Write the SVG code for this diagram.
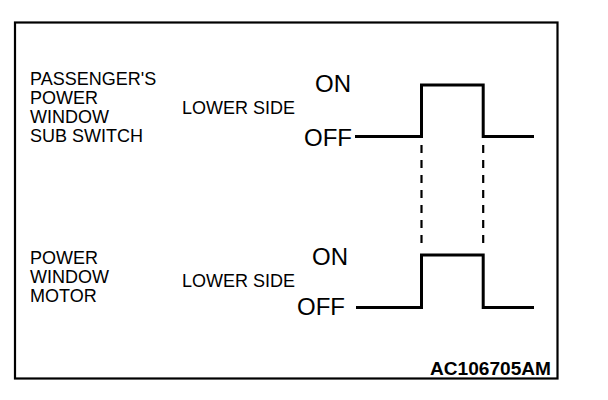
<svg xmlns="http://www.w3.org/2000/svg" width="608" height="400" viewBox="0 0 608 400">
<style>
text{font-family:"Liberation Sans",Arial,Helvetica,sans-serif;fill:#000}
.lbl{font-size:18px}
.st{font-size:24px}
.code{font-size:18px;font-weight:bold}
.wave{fill:none;stroke:#000;stroke-width:3;stroke-linejoin:miter;stroke-linecap:butt}
.dash{fill:none;stroke:#000;stroke-width:2.2;stroke-dasharray:8 7}
</style>
<rect width="608" height="400" fill="#fff"/>
<rect id="frame" x="15" y="22.5" width="542.5" height="356" fill="none" stroke="#000" stroke-width="2.2"/>
<g id="switch-label">
<text class="lbl" x="30" y="85">PASSENGER'S</text>
<text class="lbl" x="30" y="104">POWER</text>
<text class="lbl" x="30" y="123">WINDOW</text>
<text class="lbl" x="30" y="142">SUB SWITCH</text>
</g>
<g id="switch-side">
<text class="lbl" x="182" y="113.5">LOWER SIDE</text>
<text class="st" x="351" y="92" text-anchor="end">ON</text>
<text class="st" x="352" y="145.5" text-anchor="end">OFF</text>
</g>
<g id="motor-label">
<text class="lbl" x="30" y="264">POWER</text>
<text class="lbl" x="30" y="283">WINDOW</text>
<text class="lbl" x="30" y="301.5">MOTOR</text>
</g>
<g id="motor-side">
<text class="lbl" x="182" y="286.5">LOWER SIDE</text>
<text class="st" x="348" y="265" text-anchor="end">ON</text>
<text class="st" x="345" y="315" text-anchor="end">OFF</text>
</g>
<g id="connectors">
<polyline class="wave" points="355,136.5 421.5,136.5 421.5,85 483.2,85 483.2,136.5 534,136.5"/>
<polyline class="wave" points="356,307.5 421.5,307.5 421.5,255 483.2,255 483.2,307.5 534,307.5"/>
<line class="dash" x1="421.5" y1="145" x2="421.5" y2="248"/>
<line class="dash" x1="483.2" y1="145" x2="483.2" y2="248"/>
</g>
<text class="code" x="551" y="375" text-anchor="end" textLength="121" lengthAdjust="spacingAndGlyphs">AC106705AM</text>
</svg>
